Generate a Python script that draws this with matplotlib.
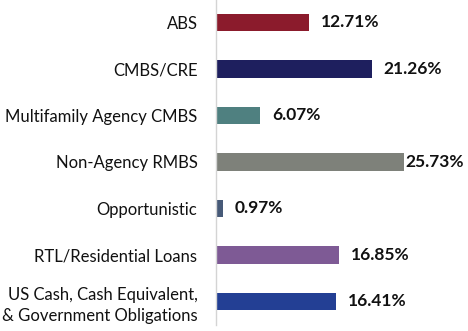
import matplotlib
matplotlib.use("Agg")
import matplotlib.pyplot as plt

categories = [
    "ABS",
    "CMBS/CRE",
    "Multifamily Agency CMBS",
    "Non-Agency RMBS",
    "Opportunistic",
    "RTL/Residential Loans",
    "US Cash, Cash Equivalent,\n& Government Obligations",
]
weights = [12.71, 21.26, 6.07, 25.73, 0.97, 16.85, 16.41]
colors = ["#8B1B2C", "#1E1F5E", "#4F8080", "#7E817A", "#475A78", "#7E5A95", "#233F94"]

plt.rcParams["font.family"] = ["Lato", "DejaVu Sans"]

fig = plt.figure(figsize=(4.68, 3.31), dpi=100)
ax = fig.add_axes([0.4605, 0.0189, 0.5395, 0.9834])

y = list(range(len(categories)))
ax.barh(y, weights, height=0.375, color=colors)
ax.set_ylim(len(categories) - 0.5, -0.5)
ax.set_xlim(0, 34.4)

for i, v in enumerate(weights):
    # the widest bar keeps its label tight against the bar end
    pad = 0.8 if v == max(weights) else 8.5
    ax.annotate(f"{v:.2f}%", (v, i), xytext=(pad, 0), textcoords="offset points",
                ha="left", va="center", fontsize=12.5, fontweight="bold", color="#111111")

ax.set_yticks(y)
ax.set_yticklabels(categories, fontsize=12, color="#111111", ha="right", linespacing=1.35)
ax.tick_params(axis="y", length=0, pad=13)
ax.set_xticks([])
for s in ["top", "right", "bottom"]:
    ax.spines[s].set_visible(False)
ax.spines["left"].set_color("#D4D4D4")
ax.spines["left"].set_linewidth(1.0)

fig.savefig("out.png", dpi=100)
